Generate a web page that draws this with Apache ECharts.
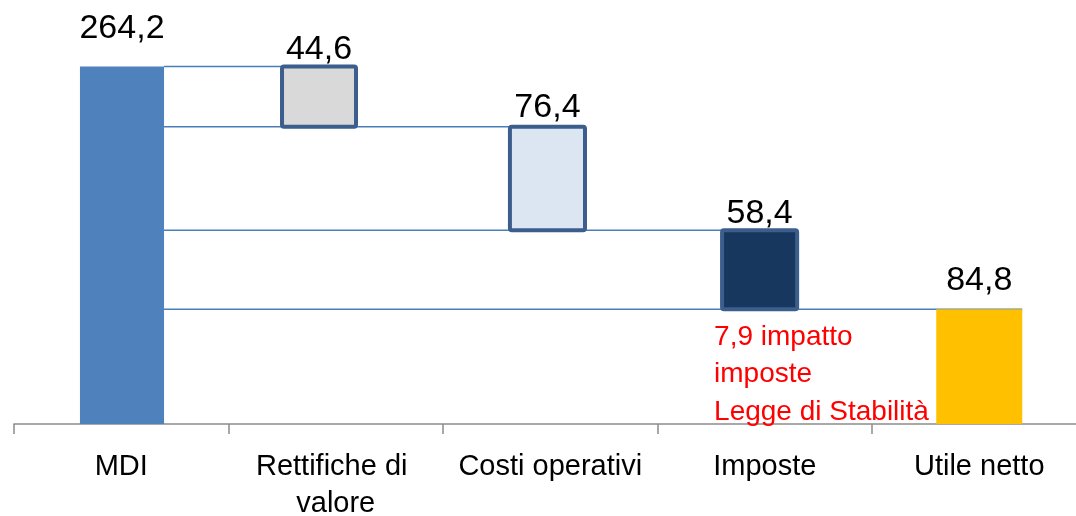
<!DOCTYPE html>
<html>
<head>
<meta charset="utf-8">
<script src="https://cdn.jsdelivr.net/npm/echarts@6/dist/echarts.min.js"></script>
<style>
html,body{margin:0;padding:0;background:#fff;}
#chart{width:1076px;height:516px;}
</style>
</head>
<body>
<div id="chart"></div>
<script>
// ---- data ----
const categories = ['MDI', 'Rettifiche di valore', 'Costi operativi', 'Imposte', 'Utile netto'];
const values = [264.2, 44.6, 76.4, 58.4, 84.8];
const kinds = ['total', 'down', 'down', 'down', 'total'];
const noteCategory = 'Imposte';
const noteText = '7,9 impatto\nimposte\nLegge di Stabilità';

// ---- styles / layout constants ----
const FILL = ['#4f81bd', '#d9d9d9', '#dce6f2', '#17375e', '#ffc000'];
const STROKE = [null, '#3b5e8c', '#3b5e8c', '#3b5e8c', null];
const WIDTH_FRAC = [0.392, 0.345, 0.35, 0.35, 0.401];
const SHIFT_FRAC = [0.0035, -0.078, -0.013, -0.024, 0];
const LABEL_GAP = [38, 17, 19, 17, 29];
const FONT = '"Liberation Sans", Arial, sans-serif';

// build spans
const spans = [];
const levels = [];
let running = 0;
values.forEach((v, i) => {
  let low, high;
  if (kinds[i] === 'total') { low = 0; high = v; running = v; }
  else { high = running; low = running - v; running = low; }
  spans.push([i, low, high, v]);
  if (i < values.length - 1) levels.push([i, running]);
});

function geom(i, api) {
  const band = api.size([1, 0])[0];
  const cx = api.coord([i, 0])[0] + SHIFT_FRAC[i] * band;
  const w = band * WIDTH_FRAC[i];
  return { cx: cx, w: w, left: cx - w / 2, right: cx + w / 2 };
}

const chart = echarts.init(document.getElementById('chart'), null, { renderer: 'canvas' });
chart.setOption({
  animation: false,
  backgroundColor: '#ffffff',
  grid: { left: 14, right: -10.5, top: 18, bottom: 92, containLabel: false, outerBoundsMode: 'none' },
  xAxis: {
    type: 'category',
    data: categories,
    boundaryGap: true,
    axisLine: { show: true, lineStyle: { color: '#8c8c8c', width: 1.5 } },
    axisTick: { show: true, length: 10, interval: 0, lineStyle: { color: '#8c8c8c', width: 1.5 } },
    axisLabel: {
      interval: 0, color: '#000', fontFamily: FONT, fontSize: 29,
      margin: 24, lineHeight: 37, width: 200, overflow: 'break'
    }
  },
  yAxis: { type: 'value', min: 0, max: 300, show: false, splitLine: { show: false } },
  series: [
    {
      type: 'custom',
      z: 1,
      data: levels,
      encode: { x: 0, y: 1 },
      renderItem: function (params, api) {
        const i = api.value(0);
        const lvl = api.value(1);
        const y = api.coord([i, lvl])[1];
        const x1 = geom(0, api).right;
        const n = i + 1;
        const g = geom(n, api);
        const x2 = kinds[n] === 'total' ? g.right : g.left;
        return {
          type: 'line',
          shape: { x1: x1, y1: y, x2: x2, y2: y },
          style: { stroke: '#4a7ebb', lineWidth: 1.5 }
        };
      }
    },
    {
      type: 'custom',
      z: 2,
      data: spans,
      encode: { x: 0, y: [1, 2] },
      renderItem: function (params, api) {
        const i = api.value(0);
        const low = api.value(1), high = api.value(2), v = api.value(3);
        const g = geom(i, api);
        const yTop = api.coord([i, high])[1];
        const yBot = api.coord([i, low])[1];
        const children = [{
          type: 'rect',
          shape: { x: g.left, y: yTop, width: g.w, height: yBot - yTop, r: STROKE[i] ? 2 : 0 },
          style: {
            fill: FILL[i],
            stroke: STROKE[i] || null,
            lineWidth: STROKE[i] ? 4 : 0
          }
        }, {
          type: 'text',
          style: {
            text: v.toFixed(1).replace('.', ','),
            x: g.cx, y: yTop - LABEL_GAP[i],
            align: 'center', verticalAlign: 'middle',
            fill: '#000', font: '34px ' + FONT
          }
        }];
        if (categories[i] === noteCategory) {
          children.push({
            type: 'text',
            style: {
              text: noteText,
              x: g.left - 8, y: yBot + 9,
              align: 'left', verticalAlign: 'top',
              fill: '#ff0000', font: '28px ' + FONT, lineHeight: 37.5
            }
          });
        }
        return { type: 'group', children: children };
      }
    }
  ]
});
</script>
</body>
</html>
